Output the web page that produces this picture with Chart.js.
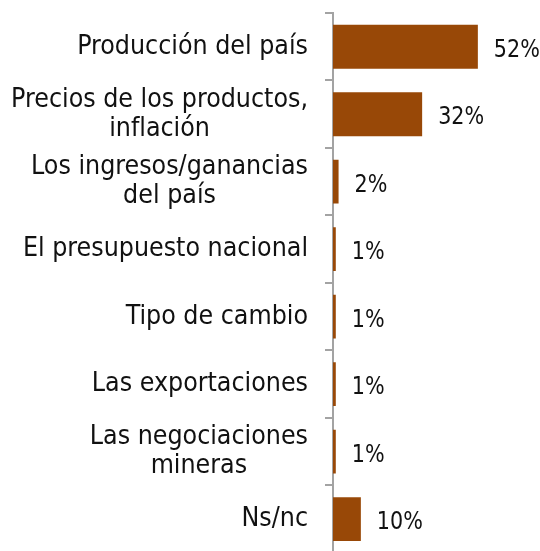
<!DOCTYPE html>
<html lang="es">
<head>
    <meta charset="UTF-8">
    <title>Factores</title>
    <script src="https://cdn.jsdelivr.net/npm/chart.js"></script>
    <style>
        html, body { margin: 0; padding: 0; background: #fff; overflow: hidden; }
        .wrap { width: 540px; height: 560px; position: relative; }
    </style>
</head>
<body>
    <div class="wrap"><canvas id="barChart"></canvas></div>

    <script>
        const categories = [
            ['Producción del país'],
            ['Precios de los productos,', 'inflación'],
            ['Los ingresos/ganancias', 'del país'],
            ['El presupuesto nacional'],
            ['Tipo de cambio'],
            ['Las exportaciones'],
            ['Las negociaciones', 'mineras'],
            ['Ns/nc']
        ];
        const values = [52, 32, 2, 1, 1, 1, 1, 10];
        const valueLabels = ['52%', '32%', '2%', '1%', '1%', '1%', '1%', '10%'];

        const barColor = '#984807';
        const axisColor = '#A3A3A3';

        // category labels: block right-aligned to the axis, lines centered inside it
        const categoryLabels = {
            id: 'categoryLabels',
            afterDraw(chart) {
                const ctx = chart.ctx;
                const y = chart.scales.y;
                const right = chart.chartArea.left - 25;
                const lineH = 29;
                ctx.save();
                ctx.font = '26.5px "DejaVu Sans Condensed", "DejaVu Sans", sans-serif';
                ctx.fillStyle = '#111';
                ctx.textAlign = 'center';
                ctx.textBaseline = 'middle';
                categories.forEach((lines, i) => {
                    const cy = y.getPixelForValue(i);
                    const maxW = Math.max(...lines.map(l => ctx.measureText(l).width));
                    const cx = right - maxW / 2;
                    const top = cy - (lines.length - 1) * lineH / 2;
                    lines.forEach((l, j) => ctx.fillText(l, cx, top + j * lineH));
                });
                ctx.restore();
            }
        };

        // percentage text after the end of each bar (narrow face, squeezed a bit)
        const valueText = {
            id: 'valueText',
            afterDatasetsDraw(chart) {
                const ctx = chart.ctx;
                const meta = chart.getDatasetMeta(0);
                const sx = 0.92;
                ctx.save();
                ctx.font = '25px "DejaVu Sans Condensed", sans-serif';
                ctx.fillStyle = '#111';
                ctx.textAlign = 'left';
                ctx.textBaseline = 'alphabetic';
                meta.data.forEach((bar, i) => {
                    ctx.save();
                    ctx.translate(bar.x + 16, bar.y + 10);
                    ctx.scale(sx, 1);
                    ctx.fillText(valueLabels[i], 0, 0);
                    ctx.restore();
                });
                ctx.restore();
            }
        };

        new Chart(document.getElementById('barChart'), {
            type: 'bar',
            data: {
                labels: categories.map(c => c.join(' ')),
                datasets: [{
                    data: values,
                    backgroundColor: barColor,
                    borderWidth: 0,
                    barPercentage: 0.65,
                    categoryPercentage: 1
                }]
            },
            options: {
                indexAxis: 'y',
                responsive: true,
                maintainAspectRatio: false,
                animation: false,
                layout: { padding: { top: 13, bottom: 5, left: 0, right: 12 } },
                plugins: {
                    legend: { display: false },
                    tooltip: { enabled: false }
                },
                scales: {
                    x: {
                        display: false,
                        min: 0,
                        max: 70
                    },
                    y: {
                        afterFit(scale) { scale.width = 333; },
                        grid: {
                            display: true,
                            offset: true,
                            drawOnChartArea: false,
                            drawTicks: true,
                            tickLength: 8,
                            color: axisColor,
                            lineWidth: 2
                        },
                        border: { display: true, color: axisColor, width: 2 },
                        ticks: { callback: () => '', padding: 0 }
                    }
                }
            },
            plugins: [categoryLabels, valueText]
        });
    </script>
</body>
</html>
